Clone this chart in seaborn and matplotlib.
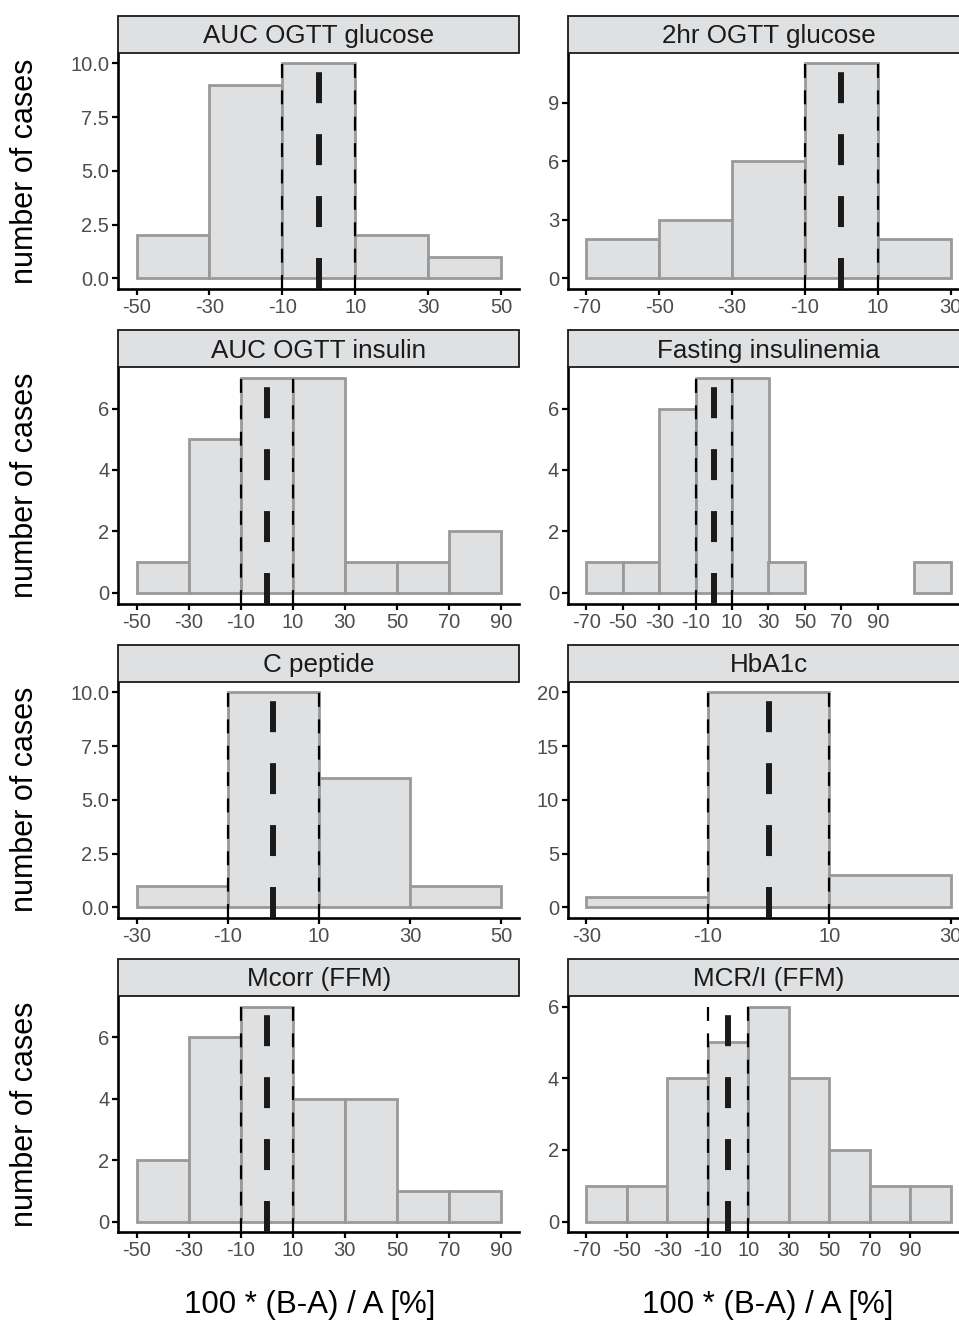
import seaborn as sns
import matplotlib.pyplot as plt
from matplotlib.patches import Rectangle

# facet titles, row by row
titles = ["AUC OGTT glucose", "2hr OGTT glucose",
          "AUC OGTT insulin", "Fasting insulinemia",
          "C peptide", "HbA1c",
          "Mcorr (FFM)", "MCR/I (FFM)"]

# bin edges (20 % wide bins) and number of cases per bin
edges_auc_glucose = [-50, -30, -10, 10, 30, 50]
counts_auc_glucose = [2, 9, 10, 2, 1]
edges_2hr_glucose = [-70, -50, -30, -10, 10, 30]
counts_2hr_glucose = [2, 3, 6, 11, 2]
edges_auc_insulin = [-50, -30, -10, 10, 30, 50, 70, 90]
counts_auc_insulin = [1, 5, 7, 7, 1, 1, 2]
edges_fasting_ins = [-70, -50, -30, -10, 10, 30, 50, 70, 90, 110, 130]
counts_fasting_ins = [1, 1, 6, 7, 7, 1, 0, 0, 0, 1]
edges_c_peptide = [-30, -10, 10, 30, 50]
counts_c_peptide = [1, 10, 6, 1]
edges_hba1c = [-30, -10, 10, 30]
counts_hba1c = [1, 20, 3]
edges_mcorr = [-50, -30, -10, 10, 30, 50, 70, 90]
counts_mcorr = [2, 6, 7, 4, 4, 1, 1]
edges_mcri = [-70, -50, -30, -10, 10, 30, 50, 70, 90, 110]
counts_mcri = [1, 1, 4, 5, 6, 4, 2, 1, 1]

# axis breaks
xticks_auc_glucose = [-50, -30, -10, 10, 30, 50]
xticks_2hr_glucose = [-70, -50, -30, -10, 10, 30]
xticks_auc_insulin = [-50, -30, -10, 10, 30, 50, 70, 90]
xticks_fasting_ins = [-70, -50, -30, -10, 10, 30, 50, 70, 90]
xticks_c_peptide = [-30, -10, 10, 30, 50]
xticks_hba1c = [-30, -10, 10, 30]
xticks_mcorr = [-50, -30, -10, 10, 30, 50, 70, 90]
xticks_mcri = [-70, -50, -30, -10, 10, 30, 50, 70, 90]

yticks_auc_glucose = [0, 2.5, 5, 7.5, 10]
yticks_2hr_glucose = [0, 3, 6, 9]
yticks_auc_insulin = [0, 2, 4, 6]
yticks_fasting_ins = [0, 2, 4, 6]
yticks_c_peptide = [0, 2.5, 5, 7.5, 10]
yticks_hba1c = [0, 5, 10, 15, 20]
yticks_mcorr = [0, 2, 4, 6]
yticks_mcri = [0, 2, 4, 6]

# reference lines: +-10 % band and zero
band = [-10, 10]
zero_line = 0

panels = [
    (edges_auc_glucose, counts_auc_glucose, xticks_auc_glucose, yticks_auc_glucose),
    (edges_2hr_glucose, counts_2hr_glucose, xticks_2hr_glucose, yticks_2hr_glucose),
    (edges_auc_insulin, counts_auc_insulin, xticks_auc_insulin, yticks_auc_insulin),
    (edges_fasting_ins, counts_fasting_ins, xticks_fasting_ins, yticks_fasting_ins),
    (edges_c_peptide, counts_c_peptide, xticks_c_peptide, yticks_c_peptide),
    (edges_hba1c, counts_hba1c, xticks_hba1c, yticks_hba1c),
    (edges_mcorr, counts_mcorr, xticks_mcorr, yticks_mcorr),
    (edges_mcri, counts_mcri, xticks_mcri, yticks_mcri),
]

FILL = "#dfe0e2"
EDGE = "#999999"
STRIP = "#dfe0e2"
TICK_GREY = "#4d4d4d"

sns.set_style("ticks")
plt.rcParams["font.family"] = ["Liberation Sans", "DejaVu Sans"]
plt.rcParams["lines.scale_dashes"] = False

W, H = 959, 1322
fig = plt.figure(figsize=(W / 100, H / 100), dpi=100)

col_x = [118.3, 568.0]
panel_w = 401.0
panel_h = 236.5
row_top0 = 52.7
row_step = 314.4
strip_h = 37.0
xlabel_x = [310, 768]

for i, (edges, counts, xticks, yticks) in enumerate(panels):
    r, c = divmod(i, 2)
    top = row_top0 + r * row_step
    ax = fig.add_axes([col_x[c] / W, 1 - (top + panel_h) / H, panel_w / W, panel_h / H])

    centers = [(a + b) / 2 for a, b in zip(edges[:-1], edges[1:])]
    sns.histplot(x=centers, weights=counts, bins=edges, ax=ax,
                 color=FILL, edgecolor=EDGE, linewidth=2.0, alpha=1)
    for p in ax.patches:
        if p.get_height() == 0:
            p.set_visible(False)

    # +-10 % band and zero line
    for b in band:
        ax.axvline(b, color="black", linewidth=1.6, dashes=(10, 9), zorder=3)
    ax.axvline(zero_line, color="#1a1a1a", linewidth=4.3, dashes=(22.3, 22.3), zorder=3)

    span = edges[-1] - edges[0]
    ax.set_xlim(edges[0] - 0.05 * span, edges[-1] + 0.05 * span)
    ymax = max(counts)
    ax.set_ylim(-0.05 * ymax, 1.05 * ymax)

    ax.set_xticks(xticks)
    ax.set_xticklabels([str(t) for t in xticks])
    ax.set_yticks(yticks)
    if any(t != int(t) for t in yticks):
        ax.set_yticklabels([f"{t:.1f}" for t in yticks])
    else:
        ax.set_yticklabels([str(int(t)) for t in yticks])

    ax.set_xlabel("")
    ax.set_ylabel("")
    sns.despine(ax=ax)
    for s in ("left", "bottom"):
        ax.spines[s].set_linewidth(1.9)
        ax.spines[s].set_color("black")
    ax.tick_params(axis="both", length=4, width=1.6, color="black",
                   labelsize=14.5, labelcolor=TICK_GREY, pad=2.5)

    # facet strip
    ax.add_patch(Rectangle((0, 1), 1, strip_h / panel_h, transform=ax.transAxes,
                           facecolor=STRIP, edgecolor="#1a1a1a", linewidth=1.3,
                           clip_on=False, zorder=5))
    ax.text(0.5, 1 + (strip_h / 2 - 2) / panel_h, titles[i], transform=ax.transAxes,
            ha="center", va="center", fontsize=18.7, color="#1a1a1a", zorder=6)

    if c == 0:
        fig.text(25 / W, 1 - (top + panel_h / 2) / H, "number of cases",
                 rotation=90, ha="center", va="center", fontsize=22, color="black")
    if r == 3:
        fig.text(xlabel_x[c] / W, 1 - 1305 / H, "100 * (B-A) / A [%]",
                 ha="center", va="center", fontsize=22.5, color="black")

fig.savefig("out.png", dpi=100)
